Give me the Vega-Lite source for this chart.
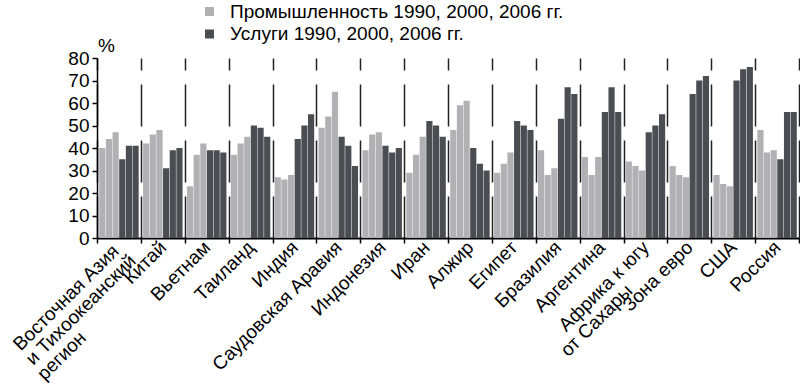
{
 "$schema": "https://vega.github.io/schema/vega-lite/v6.json",
 "width": 702, "height": 180,
 "autosize": {"type": "none"},
 "padding": {"left": 97, "top": 58, "right": 1, "bottom": 146},
 "background": "white",
 "config": {"view": {"stroke": null}, "font": "Liberation Sans"},
 "data": {"values": [
  {"r":"Восточная Азия|и Тихоокеанский|регион","k":"П1990","s":"Промышленность","v":40},
  {"r":"Восточная Азия|и Тихоокеанский|регион","k":"П2000","s":"Промышленность","v":44},
  {"r":"Восточная Азия|и Тихоокеанский|регион","k":"П2006","s":"Промышленность","v":47},
  {"r":"Восточная Азия|и Тихоокеанский|регион","k":"У1990","s":"Услуги","v":35},
  {"r":"Восточная Азия|и Тихоокеанский|регион","k":"У2000","s":"Услуги","v":41},
  {"r":"Восточная Азия|и Тихоокеанский|регион","k":"У2006","s":"Услуги","v":41},
  {"r":"Китай","k":"П1990","s":"Промышленность","v":42},
  {"r":"Китай","k":"П2000","s":"Промышленность","v":46},
  {"r":"Китай","k":"П2006","s":"Промышленность","v":48},
  {"r":"Китай","k":"У1990","s":"Услуги","v":31},
  {"r":"Китай","k":"У2000","s":"Услуги","v":39},
  {"r":"Китай","k":"У2006","s":"Услуги","v":40},
  {"r":"Вьетнам","k":"П1990","s":"Промышленность","v":23},
  {"r":"Вьетнам","k":"П2000","s":"Промышленность","v":37},
  {"r":"Вьетнам","k":"П2006","s":"Промышленность","v":42},
  {"r":"Вьетнам","k":"У1990","s":"Услуги","v":39},
  {"r":"Вьетнам","k":"У2000","s":"Услуги","v":39},
  {"r":"Вьетнам","k":"У2006","s":"Услуги","v":38},
  {"r":"Таиланд","k":"П1990","s":"Промышленность","v":37},
  {"r":"Таиланд","k":"П2000","s":"Промышленность","v":42},
  {"r":"Таиланд","k":"П2006","s":"Промышленность","v":45},
  {"r":"Таиланд","k":"У1990","s":"Услуги","v":50},
  {"r":"Таиланд","k":"У2000","s":"Услуги","v":49},
  {"r":"Таиланд","k":"У2006","s":"Услуги","v":45},
  {"r":"Индия","k":"П1990","s":"Промышленность","v":27},
  {"r":"Индия","k":"П2000","s":"Промышленность","v":26},
  {"r":"Индия","k":"П2006","s":"Промышленность","v":28},
  {"r":"Индия","k":"У1990","s":"Услуги","v":44},
  {"r":"Индия","k":"У2000","s":"Услуги","v":50},
  {"r":"Индия","k":"У2006","s":"Услуги","v":55},
  {"r":"Саудовская Аравия","k":"П1990","s":"Промышленность","v":49},
  {"r":"Саудовская Аравия","k":"П2000","s":"Промышленность","v":54},
  {"r":"Саудовская Аравия","k":"П2006","s":"Промышленность","v":65},
  {"r":"Саудовская Аравия","k":"У1990","s":"Услуги","v":45},
  {"r":"Саудовская Аравия","k":"У2000","s":"Услуги","v":41},
  {"r":"Саудовская Аравия","k":"У2006","s":"Услуги","v":32},
  {"r":"Индонезия","k":"П1990","s":"Промышленность","v":39},
  {"r":"Индонезия","k":"П2000","s":"Промышленность","v":46},
  {"r":"Индонезия","k":"П2006","s":"Промышленность","v":47},
  {"r":"Индонезия","k":"У1990","s":"Услуги","v":41},
  {"r":"Индонезия","k":"У2000","s":"Услуги","v":38},
  {"r":"Индонезия","k":"У2006","s":"Услуги","v":40},
  {"r":"Иран","k":"П1990","s":"Промышленность","v":29},
  {"r":"Иран","k":"П2000","s":"Промышленность","v":37},
  {"r":"Иран","k":"П2006","s":"Промышленность","v":45},
  {"r":"Иран","k":"У1990","s":"Услуги","v":52},
  {"r":"Иран","k":"У2000","s":"Услуги","v":50},
  {"r":"Иран","k":"У2006","s":"Услуги","v":45},
  {"r":"Алжир","k":"П1990","s":"Промышленность","v":48},
  {"r":"Алжир","k":"П2000","s":"Промышленность","v":59},
  {"r":"Алжир","k":"П2006","s":"Промышленность","v":61},
  {"r":"Алжир","k":"У1990","s":"Услуги","v":40},
  {"r":"Алжир","k":"У2000","s":"Услуги","v":33},
  {"r":"Алжир","k":"У2006","s":"Услуги","v":30},
  {"r":"Египет","k":"П1990","s":"Промышленность","v":29},
  {"r":"Египет","k":"П2000","s":"Промышленность","v":33},
  {"r":"Египет","k":"П2006","s":"Промышленность","v":38},
  {"r":"Египет","k":"У1990","s":"Услуги","v":52},
  {"r":"Египет","k":"У2000","s":"Услуги","v":50},
  {"r":"Египет","k":"У2006","s":"Услуги","v":48},
  {"r":"Бразилия","k":"П1990","s":"Промышленность","v":39},
  {"r":"Бразилия","k":"П2000","s":"Промышленность","v":28},
  {"r":"Бразилия","k":"П2006","s":"Промышленность","v":31},
  {"r":"Бразилия","k":"У1990","s":"Услуги","v":53},
  {"r":"Бразилия","k":"У2000","s":"Услуги","v":67},
  {"r":"Бразилия","k":"У2006","s":"Услуги","v":64},
  {"r":"Аргентина","k":"П1990","s":"Промышленность","v":36},
  {"r":"Аргентина","k":"П2000","s":"Промышленность","v":28},
  {"r":"Аргентина","k":"П2006","s":"Промышленность","v":36},
  {"r":"Аргентина","k":"У1990","s":"Услуги","v":56},
  {"r":"Аргентина","k":"У2000","s":"Услуги","v":67},
  {"r":"Аргентина","k":"У2006","s":"Услуги","v":56},
  {"r":"Африка к югу|от Сахары","k":"П1990","s":"Промышленность","v":34},
  {"r":"Африка к югу|от Сахары","k":"П2000","s":"Промышленность","v":32},
  {"r":"Африка к югу|от Сахары","k":"П2006","s":"Промышленность","v":30},
  {"r":"Африка к югу|от Сахары","k":"У1990","s":"Услуги","v":47},
  {"r":"Африка к югу|от Сахары","k":"У2000","s":"Услуги","v":50},
  {"r":"Африка к югу|от Сахары","k":"У2006","s":"Услуги","v":55},
  {"r":"Зона евро","k":"П1990","s":"Промышленность","v":32},
  {"r":"Зона евро","k":"П2000","s":"Промышленность","v":28},
  {"r":"Зона евро","k":"П2006","s":"Промышленность","v":27},
  {"r":"Зона евро","k":"У1990","s":"Услуги","v":64},
  {"r":"Зона евро","k":"У2000","s":"Услуги","v":70},
  {"r":"Зона евро","k":"У2006","s":"Услуги","v":72},
  {"r":"США","k":"П1990","s":"Промышленность","v":28},
  {"r":"США","k":"П2000","s":"Промышленность","v":24},
  {"r":"США","k":"П2006","s":"Промышленность","v":23},
  {"r":"США","k":"У1990","s":"Услуги","v":70},
  {"r":"США","k":"У2000","s":"Услуги","v":75},
  {"r":"США","k":"У2006","s":"Услуги","v":76},
  {"r":"Россия","k":"П1990","s":"Промышленность","v":48},
  {"r":"Россия","k":"П2000","s":"Промышленность","v":38},
  {"r":"Россия","k":"П2006","s":"Промышленность","v":39},
  {"r":"Россия","k":"У1990","s":"Услуги","v":35},
  {"r":"Россия","k":"У2000","s":"Услуги","v":56},
  {"r":"Россия","k":"У2006","s":"Услуги","v":56}
 ]},
 "mark": {"type": "bar"},
 "encoding": {
  "x": {"field": "r", "type": "nominal", "sort": null,
   "scale": {"paddingInner": 0, "paddingOuter": 0},
   "axis": {"title": null, "tickBand": "extent", "grid": true, "gridColor": "#222222", "gridWidth": 1.5,
    "gridDash": [42, 14], "gridDashOffset": 30,
    "domainColor": "black", "domainWidth": 2, "tickColor": "black", "tickSize": 5, "tickWidth": 1.5,
    "labelAngle": -45, "labelAlign": "right", "labelBaseline": "middle", "labelFontSize": 19,
    "labelLineHeight": 19,
    "labelColor": "black", "labelPadding": 1,
    "labelExpr": "datum.value == 'Восточная Азия|и Тихоокеанский|регион' ? ['Восточная Азия\u00a0\u200b', 'и Тихоокеанский', 'регион\u00a0\u00a0\u00a0\u00a0\u00a0\u00a0\u00a0\u00a0\u00a0\u00a0\u00a0\u00a0\u00a0\u00a0\u00a0\u00a0\u00a0\u200b'] : datum.value == 'Африка к югу|от Сахары' ? ['Африка к югу', 'от Сахары\u00a0\u00a0\u00a0\u00a0\u00a0\u00a0\u00a0\u00a0\u200b'] : datum.label",
    "labelLimit": 0, "labelOverlap": false, "labelBound": false, "labelFlush": false}},
  "xOffset": {"field": "k", "type": "nominal", "sort": null,
   "scale": {"paddingInner": 0.07, "paddingOuter": 0.33}},
  "y": {"field": "v", "type": "quantitative",
   "scale": {"domain": [0, 80]},
   "axis": {"title": "%", "titleAngle": 0, "titleX": 9, "titleY": -7, "titleAlign": "center",
    "titleBaseline": "alphabetic", "titleFontSize": 19, "titleFontWeight": "normal", "titleColor": "black",
    "values": [0, 10, 20, 30, 40, 50, 60, 70, 80], "grid": false,
    "domainColor": "black", "domainWidth": 1.5, "tickColor": "black", "tickSize": 5, "tickWidth": 1.5,
    "labelFontSize": 19, "labelColor": "black", "labelPadding": 3}},
  "color": {"field": "s", "type": "nominal", "sort": null,
   "scale": {"domain": ["Промышленность", "Услуги"], "range": ["#b1b1b3", "#4c4d52"]},
   "legend": {"title": null, "orient": "none", "legendX": 103, "legendY": -56, "direction": "vertical",
    "symbolType": "square", "symbolSize": 81, "symbolStrokeWidth": 0, "labelFontSize": 19,
    "labelColor": "black", "labelOffset": 11, "rowPadding": 2.5, "padding": 0,
    "labelExpr": "datum.label + ' 1990, 2000, 2006 гг.'", "labelLimit": 0}}
 }
}
